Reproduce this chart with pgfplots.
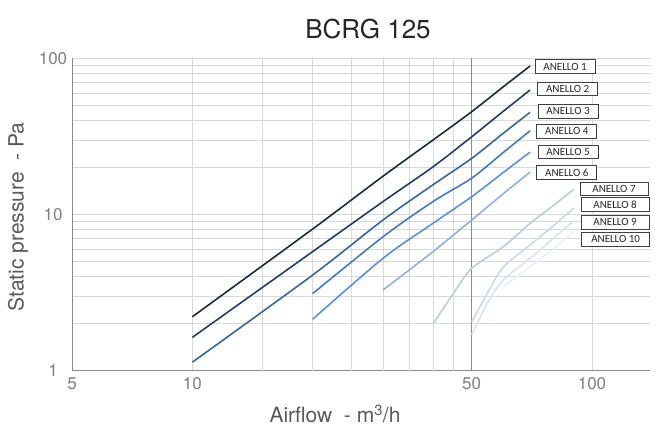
\documentclass[border=0pt]{standalone}
\usepackage{pgfplots}
\pgfplotsset{compat=1.18}
\usepackage{fontspec}
\setmainfont{TeX Gyre Heros}
\newfontfamily\boxfont{Carlito}

\definecolor{gridc}{HTML}{D9D9D9}
\definecolor{axc}{HTML}{8C8C8C}
\definecolor{tickc}{HTML}{7F7F7F}
\definecolor{labc}{HTML}{595959}
\definecolor{ca}{HTML}{1A2A42}
\definecolor{cb}{HTML}{213E66}
\definecolor{cc}{HTML}{39659C}
\definecolor{cd}{HTML}{4678BA}
\definecolor{ce}{HTML}{5A90D8}
\definecolor{cf}{HTML}{8DB2E1}
\definecolor{cg}{HTML}{B6CCE8}
\definecolor{ch}{HTML}{C6D9F0}
\definecolor{ci}{HTML}{D6E4F4}
\definecolor{cj}{HTML}{E8EFF8}

\tikzset{anello/.style={draw=black!75, fill=white, line width=0.9pt,
    font=\boxfont\fontsize{11}{13}\selectfont, text=black!85,
    minimum height=13.5pt, inner sep=0pt}}

\begin{document}
\begin{tikzpicture}
\useasboundingbox (-72pt,-57.5pt) rectangle (583pt,370.5pt);
\begin{axis}[
    at={(0,0)}, anchor=south west,
    scale only axis, width=578.4pt, height=312pt,
    xmode=log, ymode=log,
    xmin=5, xmax=140, ymin=1, ymax=100,
    xtick={5,10,50,100}, xticklabels={5,10,50,100},
    minor xtick={},
    extra x ticks={15,20,25,30,35,40,45},
    extra x tick labels={},
    extra x tick style={grid=major},
    ytick={1,10,100}, yticklabels={1,10,100},
    xmajorgrids, ymajorgrids, yminorgrids,
    major grid style={gridc, line width=0.8pt},
    minor grid style={gridc, line width=0.8pt},
    major tick length=0pt, minor tick length=0pt,
    axis x line*=bottom, axis y line*=left,
    axis line style={axc, line width=0.8pt},
    xticklabel style={anchor=center, yshift=-13pt, text=tickc,
        font=\fontsize{17}{17}\selectfont},
    yticklabel style={anchor=center, xshift=-19pt, text=tickc,
        font=\fontsize{17}{17}\selectfont},
    clip=false,
    every axis plot/.append style={line width=1.6pt, smooth, no marks},
]
\draw[axc, line width=0.8pt] (axis cs:50,1) -- (axis cs:50,100);

\addplot[cj] coordinates {(60,3.44)(70,4.63)(80,6.0)(90,7.76)};
\addplot[ci] coordinates {(50,1.69)(55,2.76)(60,3.8)(70,5.24)(80,7.02)(90,9.12)};
\addplot[ch] coordinates {(50,2.05)(55,3.2)(60,4.6)(70,6.37)(80,8.47)(90,10.96)};
\addplot[cg] coordinates {(40,1.98)(45,3.12)(50,4.52)(60,6.22)(70,8.78)(80,11.4)(90,14.5)};
\addplot[cf] coordinates {(30,3.28)(40,5.78)(50,9.22)(60,13.6)(70,18.7)};
\addplot[ce] coordinates {(20,2.13)(30,5.24)(40,8.78)(50,13.0)(60,18.6)(70,25.1)};
\addplot[cd] coordinates {(20,3.11)(30,7.2)(40,12.1)(50,17.1)(60,25.0)(70,34.4)};
\addplot[cc] coordinates {(10,1.13)(20,4.09)(30,9.22)(40,15.5)(50,22.9)(60,33.2)(70,45.2)};
\addplot[cb] coordinates {(10,1.63)(20,5.78)(30,12.1)(40,20.2)(50,31.5)(60,45.9)(70,62.8)};
\addplot[ca] coordinates {(10,2.21)(20,8.07)(30,17.6)(40,30.0)(50,45.6)(60,65.9)(70,89.5)};

\node[anello, minimum width=60pt] at (axis cs:85.6,88.6) {ANELLO 1};
\node[anello, minimum width=60pt] at (axis cs:86.9,64.0) {ANELLO 2};
\node[anello, minimum width=60pt] at (axis cs:87.1,45.9) {ANELLO 3};
\node[anello, minimum width=60pt] at (axis cs:86.5,34.1) {ANELLO 4};
\node[anello, minimum width=60pt] at (axis cs:87.1,25.2) {ANELLO 5};
\node[anello, minimum width=60pt] at (axis cs:86.5,18.6) {ANELLO 6};
\node[anello, minimum width=68pt] at (axis cs:113.5,14.6) {ANELLO 7};
\node[anello, minimum width=68pt] at (axis cs:114.2,11.6) {ANELLO 8};
\node[anello, minimum width=68pt] at (axis cs:114.2,8.91) {ANELLO 9};
\node[anello, minimum width=68pt] at (axis cs:114.6,6.93) {ANELLO 10};
\end{axis}

\node[text=black!85, font=\fontsize{26}{26}\selectfont] at (296pt,341pt) {BCRG 125};
\node[text=labc, font=\fontsize{21}{21}\selectfont, rotate=90] at (-54pt,153.5pt) {Static pressure~ - Pa};
\node[text=labc, font=\fontsize{21}{21}\selectfont] at (263pt,-43.5pt) {Airflow~ - m\textsuperscript{3}/h};
\end{tikzpicture}
\end{document}
